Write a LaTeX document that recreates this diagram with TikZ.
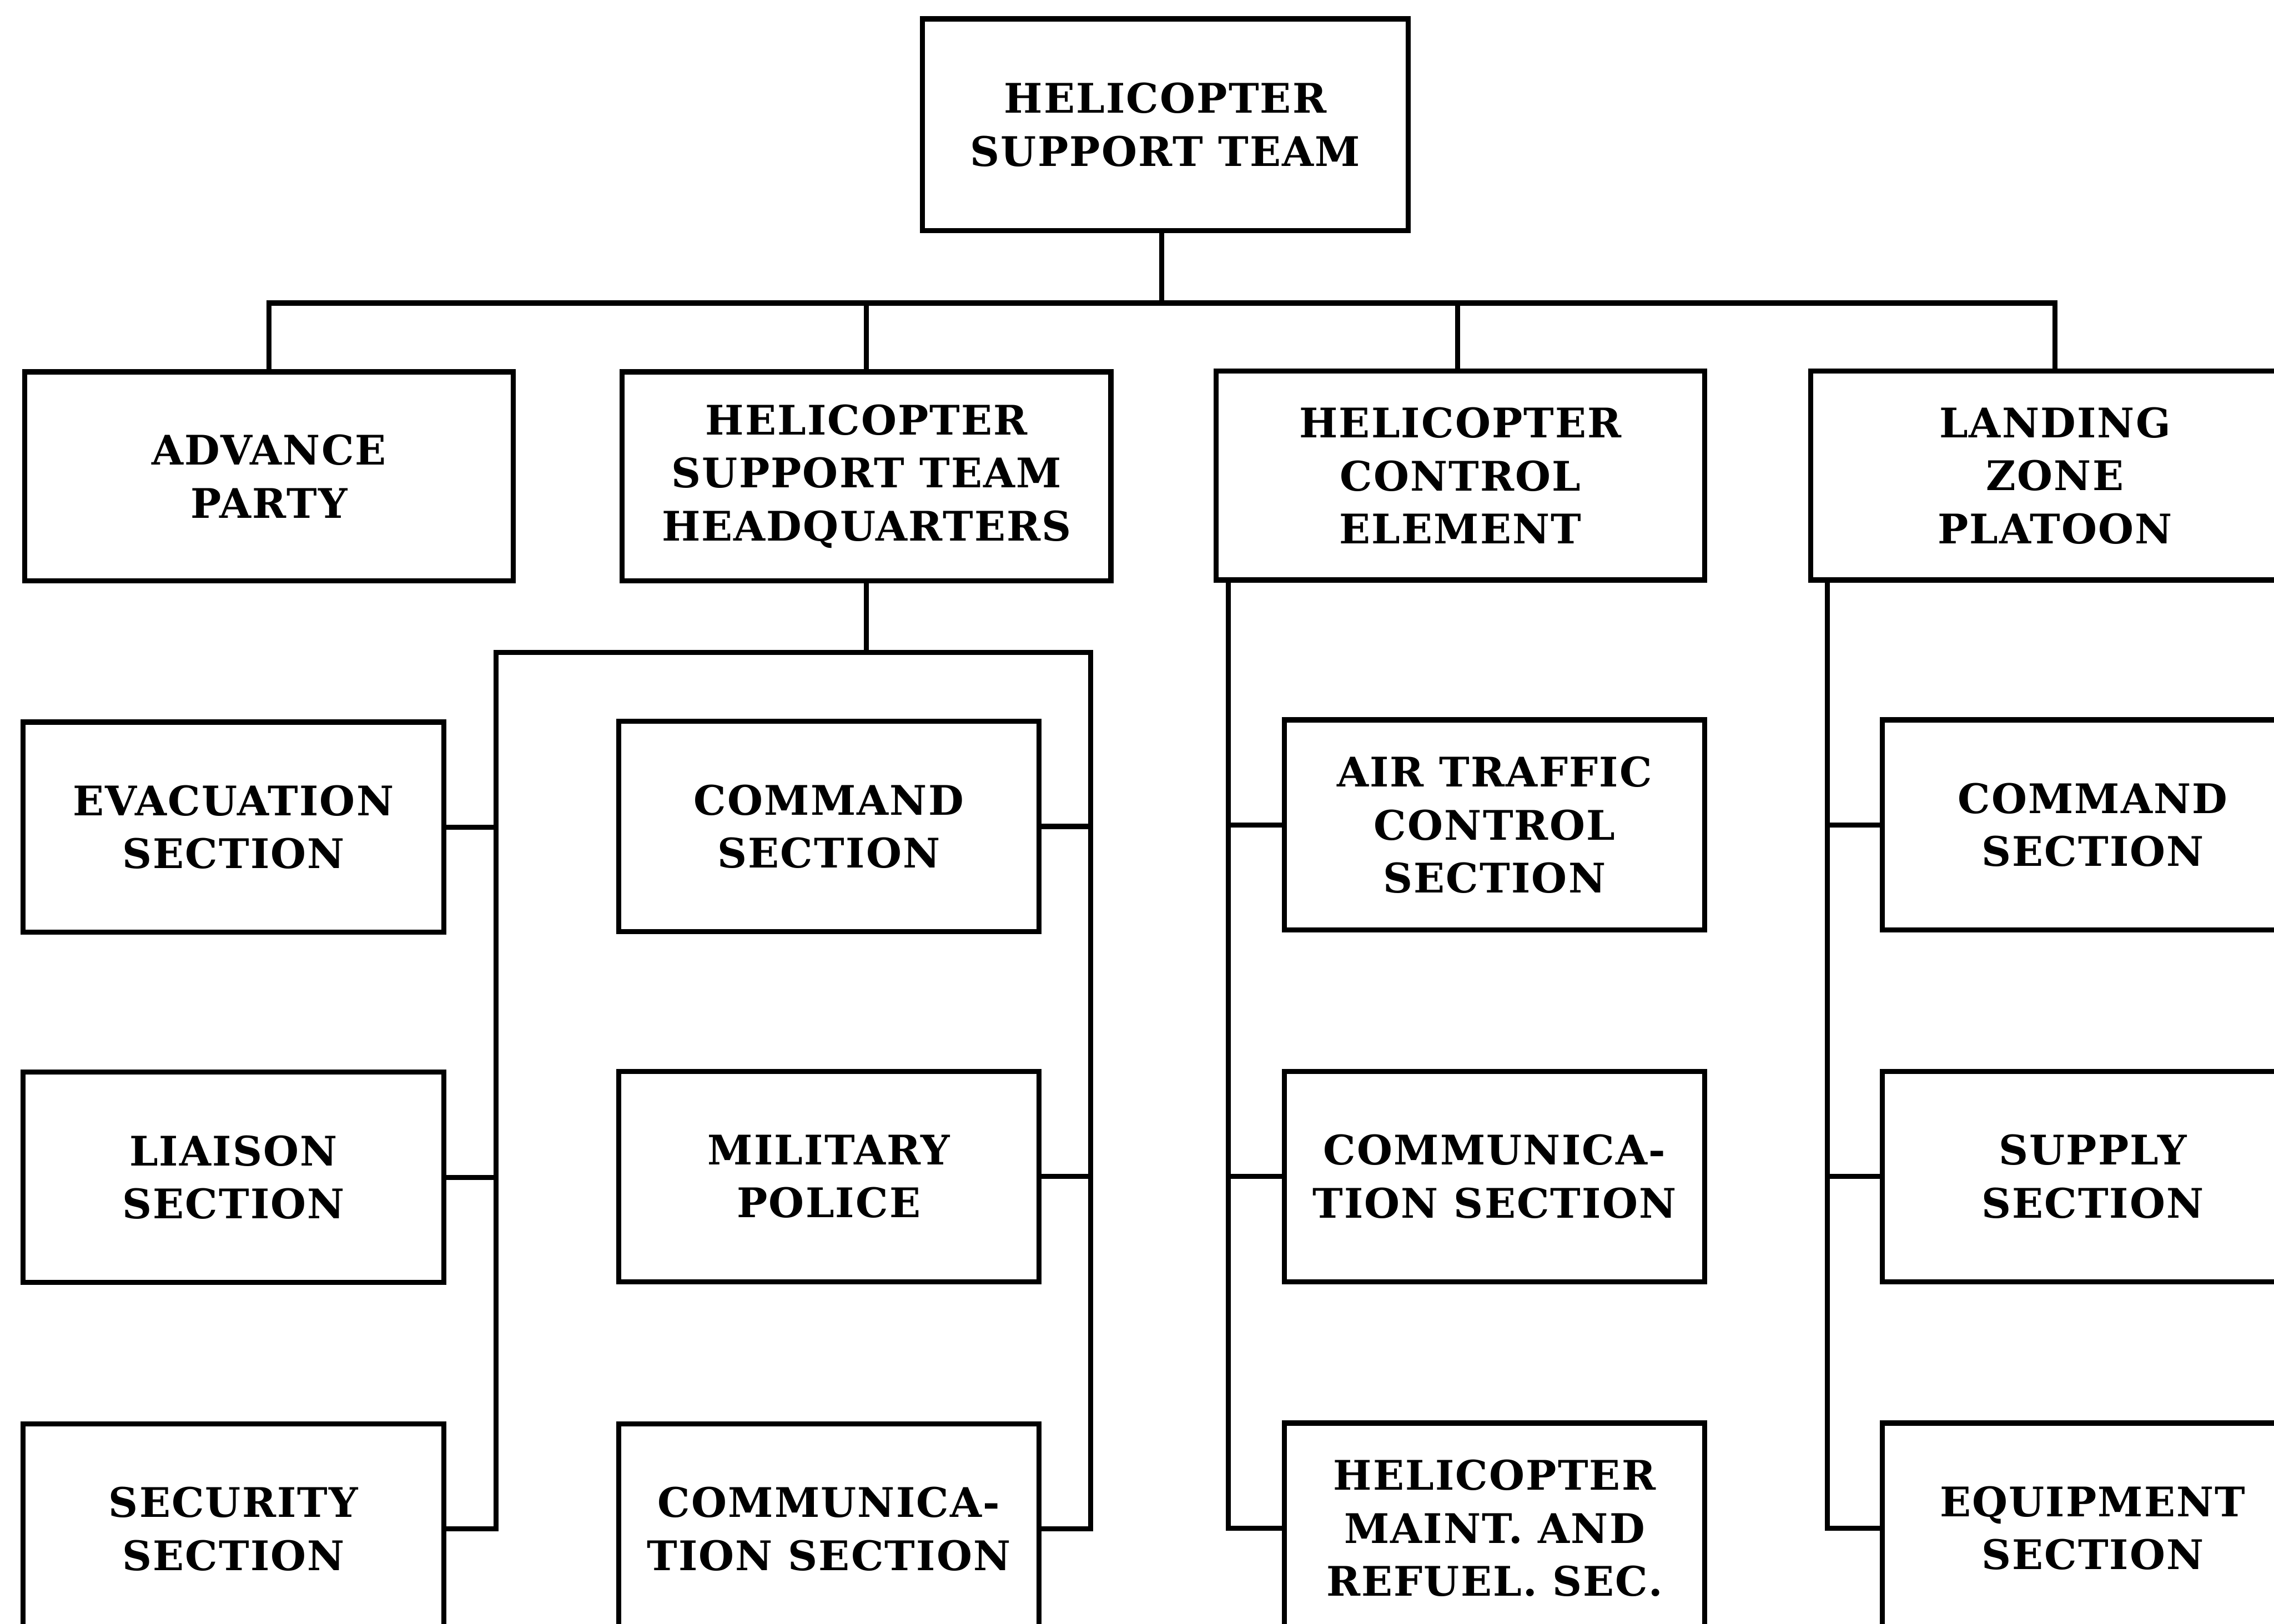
\documentclass[tikz,border=0pt]{standalone}
\usepackage{fontspec}
\setmainfont{DejaVu Serif}[LetterSpace=3]
\usepackage{tikz}
\usetikzlibrary{positioning, calc}

\begin{document}
\begin{tikzpicture}[
		every node/.style={font=\fontsize{8}{10.4}\selectfont\bfseries},
		unitbox/.style={draw, line width=1pt, fill=white, align=center,
			minimum width=3.37cm, minimum height=1.44cm, inner sep=0pt},
		secbox/.style={unitbox, minimum width=2.9cm, minimum height=1.45cm},
		link/.style={line width=1pt}
	]
	\clip (0,0) rectangle (15.68,-11.20);
	% top of the team
	\node[unitbox, minimum width=3.35cm, minimum height=1.46cm]
	     (hst) at (8.035,-0.86) {HELICOPTER\\SUPPORT TEAM};
	% second level
	\node[unitbox] (adv) at (1.855,-3.285) {ADVANCE\\PARTY};
	\node[unitbox] (hq)  at (5.975,-3.285) {HELICOPTER\\SUPPORT TEAM\\HEADQUARTERS};
	\node[unitbox] (hce) at (10.07,-3.28) {HELICOPTER\\CONTROL\\ELEMENT};
	\node[unitbox] (lzp) at (14.17,-3.28) {LANDING\\ZONE\\PLATOON};
	% sections under headquarters
	\node[secbox] (evac) at (1.61,-5.705)  {EVACUATION\\SECTION};
	\node[secbox] (liai) at (1.61,-8.12)   {LIAISON\\SECTION};
	\node[secbox] (secu) at (1.61,-10.545) {SECURITY\\SECTION};
	\node[secbox] (cmd)  at (5.715,-5.70)  {COMMAND\\SECTION};
	\node[secbox] (mp)   at (5.715,-8.115) {MILITARY\\POLICE};
	\node[secbox] (com)  at (5.715,-10.545) {COMMUNICA-\\TION SECTION};
	% sections under control element
	\node[secbox] (atc)  at (10.305,-5.69)  {AIR TRAFFIC\\CONTROL\\SECTION};
	\node[secbox] (hcom) at (10.305,-8.115) {COMMUNICA-\\TION SECTION};
	\node[secbox] (maint) at (10.305,-10.54) {HELICOPTER\\MAINT. AND\\REFUEL. SEC.};
	% sections under platoon
	\node[secbox] (zcmd) at (14.43,-5.69)  {COMMAND\\SECTION};
	\node[secbox] (sup)  at (14.43,-8.115) {SUPPLY\\SECTION};
	\node[secbox] (equ)  at (14.43,-10.54) {EQUIPMENT\\SECTION};

	\coordinate (bus)   at (8.01,-2.09);
	\coordinate (lrail) at (3.42,-4.50);
	\coordinate (rrail) at (7.52,-4.50);
	\coordinate (crail) at (8.47,-4.00);
	\coordinate (zrail) at (12.60,-4.00);

	\draw[link] (hst.south -| bus) -- (bus);
	\draw[link] (adv.north) |- (bus) -| (lzp.north);
	\draw[link] (hq.north) -- (hq.north |- bus);
	\draw[link] (hce.north -| 10.05,0) -- (bus -| 10.05,0);

	\draw[link] (hq.south) -- (hq.south |- lrail);
	\draw[link] (secu.east) -| (lrail) -- (rrail) |- (com.east);
	\foreach \n in {evac,liai}
		\draw[link] (\n.east) -- (\n.east -| lrail);
	\foreach \n in {cmd,mp}
		\draw[link] (\n.east) -- (\n.east -| rrail);

	\draw[link] (crail) |- (maint.west);
	\foreach \n in {atc,hcom}
		\draw[link] (\n.west) -- (\n.west -| crail);
	\draw[link] (zrail) |- (equ.west);
	\foreach \n in {zcmd,sup}
		\draw[link] (\n.west) -- (\n.west -| zrail);
\end{tikzpicture}
\end{document}
